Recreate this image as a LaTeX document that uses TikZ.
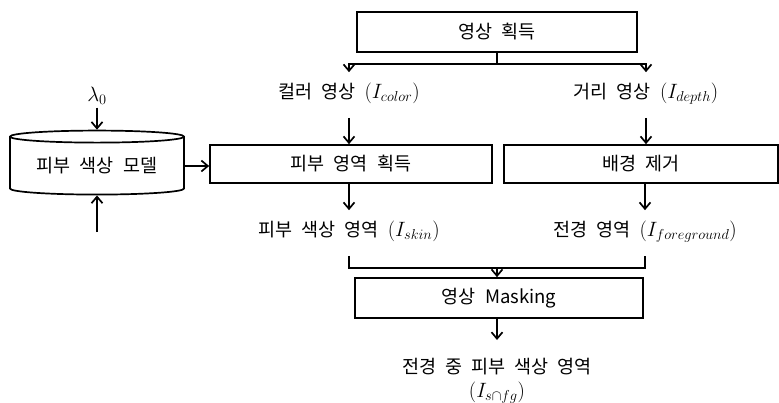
\documentclass[tikz,border=0pt]{standalone}
\usepackage{fontspec}
\newfontfamily\krfont[WordSpace=2.2]{Noto Sans CJK KR}
\usetikzlibrary{arrows.meta,positioning,calc,shapes.geometric}
\tikzset{
  block/.style = {draw, rectangle, inner sep=0pt, align=center},
  lbl/.style   = {inner xsep=0pt, inner ysep=14pt, text height=11pt, text depth=5pt},
  sig/.style   = {-{Straight Barb[length=6.5pt,width=11pt]}},
}
\newcommand{\mathlbl}[1]{{\fontsize{22}{24}\selectfont$#1$}}

\begin{document}
\begin{tikzpicture}[x=1pt,y=-1pt,line width=1.7pt,font=\krfont\fontsize{18.5}{24}\selectfont]
\useasboundingbox (0,0) rectangle (779,402);
\node[block, minimum width=280pt, minimum height=40pt] (get) at (497,32) {영상 획득};
\node[lbl] (color) at (349,95) {컬러 영상 \mathlbl{(I_{color})}};
\node[lbl] (depth) at (646,95) {거리 영상 \mathlbl{(I_{depth})}};
\node[block, minimum width=282pt, minimum height=38pt] (skinget) at (351,164) {피부 영역 획득};
\node[block, minimum width=274pt, minimum height=38pt] (bgrem) at (641,164) {배경 제거};
\node[lbl] (skin) at (349,233) {피부 색상 영역 \mathlbl{(I_{skin})}};
\node[lbl] (fg) at (645,233) {전경 영역 \mathlbl{(I_{foreground})}};
\node[block, minimum width=288pt, minimum height=40pt] (mask) at (499,298) {영상 Masking};
\node[align=center, anchor=north, inner ysep=17pt] (result) at (497,340)
  {전경 중 피부 색상 영역\\\mathlbl{(I_{s\cap fg})}};
% skin colour model on the left
\node[draw, cylinder, shape border rotate=90, aspect=0.1, minimum width=174pt,
  minimum height=64pt, inner sep=0pt] (model) at (97,166) {피부 색상 모델};
\node[inner sep=2pt] (lam) at (97,96) {\mathlbl{\lambda_0}};
\coordinate (feed) at (97,232);
% connectors
\draw (get.south) -- ++(0,11) coordinate (fork);
\draw[sig] (fork) -| (color.north);
\draw[sig] (fork) -| (depth.north);
\draw[sig] (color.south) -- (color.south |- skinget.north);
\draw[sig] (depth.south) -- (depth.south |- bgrem.north);
\draw[sig] (skinget.south -| skin.north) -- (skin.north);
\draw[sig] (bgrem.south -| fg.north) -- (fg.north);
\draw (skin.south) -- ++(0,12) -| (fg.south);
\coordinate (join) at ($(skin.south)!0.5!(fg.south)+(0,12)$);
\draw[sig] (join) -- (join |- mask.north);
\draw[sig] (mask.south -| result.north) -- (result.north);
\draw[sig] (lam.south) -- (model.north);
\draw[sig] (feed) -- (model.south);
\draw[sig] (model.east) -- (model.east -| skinget.west);
\end{tikzpicture}
\end{document}
